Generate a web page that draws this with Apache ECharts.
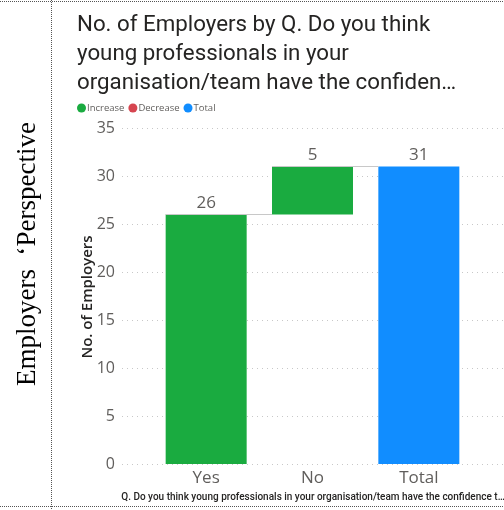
<!DOCTYPE html>
<html>
<head>
<meta charset="utf-8">
<script src="https://cdn.jsdelivr.net/npm/echarts@6/dist/echarts.min.js"></script>
<style>
  html, body { margin: 0; padding: 0; background: #fff; }
  #chart { width: 504px; height: 510px; }
</style>
</head>
<body>
<div id="chart"></div>
<script>
// Waterfall: employers answering Yes / No, and the running total
const categories = ['Yes', 'No', 'Total'];
const increaseValues = [26, 5, null];
const decreaseValues = [null, null, null];
const totalValues = [null, null, 31];
const yTicks = [0, 5, 10, 15, 20, 25, 30, 35];

const legendNames = ['Increase', 'Decrease', 'Total'];
const colors = { Increase: '#1AAB40', Decrease: '#D64550', Total: '#118DFF' };

// invisible base for each step = running sum before that step
const baseValues = [];
const levels = [];
let running = 0;
categories.forEach((c, i) => {
  if (totalValues[i] != null) {
    baseValues.push(0);
    running = totalValues[i];
  } else {
    baseValues.push(running);
    running += (increaseValues[i] || 0) - (decreaseValues[i] || 0);
  }
  levels.push(running);
});
const connectorData = levels.slice(0, -1).map((v, i) => [i, v]);

const BAR_W = 81;
const labelStyle = { show: true, position: 'top', distance: 3, fontFamily: 'Open Sans', fontSize: 17, color: '#605E5C' };

const chart = echarts.init(document.getElementById('chart'), null, { renderer: 'canvas' });
chart.setOption({
  animation: false,
  title: {
    text: 'No. of Employers by Q. Do you think\nyoung professionals in your\norganisation/team have the confiden…',
    left: 72, top: 6,
    textStyle: { fontFamily: 'Roboto', fontWeight: 'normal', fontSize: 22.3, lineHeight: 29, color: '#252423' }
  },
  legend: {
    data: legendNames,
    left: 72, top: 98,
    icon: 'circle', itemWidth: 9, itemHeight: 9, itemGap: 4,
    textStyle: { fontFamily: 'Open Sans', fontSize: 9.5, color: '#605E5C', padding: [0, 0, 0, -4] }
  },
  grid: [
    { left: 122, right: 0, top: 128, bottom: 46 },
    { left: 153, right: 32, top: 128, bottom: 46 }
  ],
  xAxis: [
    { gridIndex: 0, type: 'category', data: categories, show: false },
    {
      gridIndex: 1, type: 'category', data: categories,
      axisLine: { show: false }, axisTick: { show: false },
      axisLabel: { margin: 6, fontFamily: 'Open Sans', fontSize: 17, color: '#605E5C' }
    }
  ],
  yAxis: [
    {
      gridIndex: 0, type: 'value', min: yTicks[0], max: yTicks[yTicks.length - 1], interval: 5,
      axisLine: { show: false }, axisTick: { show: false },
      axisLabel: { margin: 7, fontFamily: 'Open Sans', fontSize: 16, color: '#605E5C' },
      splitLine: { show: true, lineStyle: { color: '#C8C8C8', width: 1, type: [1, 4] } }
    },
    {
      gridIndex: 1, type: 'value', min: yTicks[0], max: yTicks[yTicks.length - 1], interval: 5,
      show: false, splitLine: { show: false }
    }
  ],
  series: [
    {
      name: 'base', type: 'bar', stack: 'wf', xAxisIndex: 1, yAxisIndex: 1,
      barWidth: BAR_W, itemStyle: { color: 'transparent' }, silent: true,
      data: baseValues
    },
    {
      name: 'Increase', type: 'bar', stack: 'wf', xAxisIndex: 1, yAxisIndex: 1,
      barWidth: BAR_W, itemStyle: { color: colors.Increase },
      label: labelStyle,
      data: increaseValues.map(v => v == null ? '-' : v)
    },
    {
      name: 'Decrease', type: 'bar', stack: 'wf', xAxisIndex: 1, yAxisIndex: 1,
      barWidth: BAR_W, itemStyle: { color: colors.Decrease },
      label: labelStyle,
      data: decreaseValues.map(v => v == null ? '-' : v)
    },
    {
      name: 'Total', type: 'bar', stack: 'wf', xAxisIndex: 1, yAxisIndex: 1,
      barWidth: BAR_W, itemStyle: { color: colors.Total },
      label: labelStyle,
      data: totalValues.map(v => v == null ? '-' : v)
    },
    {
      // connector lines from each step's level to the next bar
      name: 'connector', type: 'custom', xAxisIndex: 1, yAxisIndex: 1, silent: true, z: 5,
      data: connectorData,
      renderItem: function (params, api) {
        const p = api.coord([api.value(0), api.value(1)]);
        const band = api.size([1, 0])[0];
        const x0 = p[0] - BAR_W / 2;
        return {
          type: 'line',
          shape: { x1: x0, y1: Math.round(p[1]) + 0.5, x2: x0 + band, y2: Math.round(p[1]) + 0.5 },
          style: { stroke: '#C8C8C8', lineWidth: 1 }
        };
      }
    }
  ],
  graphic: [
    // dotted frame lines
    { type: 'line', shape: { x1: 0, y1: 1.5, x2: 504, y2: 1.5 }, style: { stroke: '#555', lineWidth: 1, lineDash: [1, 1] } },
    { type: 'line', shape: { x1: 0, y1: 506.5, x2: 504, y2: 506.5 }, style: { stroke: '#555', lineWidth: 1, lineDash: [1, 1] } },
    { type: 'line', shape: { x1: 51.5, y1: 0, x2: 51.5, y2: 510 }, style: { stroke: '#555', lineWidth: 1, lineDash: [1, 1] } },
    {
      type: 'text', x: 28, y: 254, rotation: Math.PI / 2,
      style: { text: 'Employers  \u2018Perspective', fontFamily: 'Liberation Serif', fontSize: 27, fill: '#000', align: 'center', verticalAlign: 'middle' }
    },
    {
      type: 'text', x: 88, y: 297, rotation: Math.PI / 2,
      style: { text: 'No. of Employers', fontFamily: 'Open Sans', fontSize: 15, fontWeight: 600, fill: '#252423', align: 'center', verticalAlign: 'middle' }
    },
    {
      type: 'text', x: 313, y: 497,
      style: { text: 'Q. Do you think young professionals in your organisation/team have the confidence t…', fontFamily: 'Roboto', fontSize: 10, fontWeight: 500, fill: '#252423', align: 'center', verticalAlign: 'middle' }
    }
  ]
});
</script>
</body>
</html>
